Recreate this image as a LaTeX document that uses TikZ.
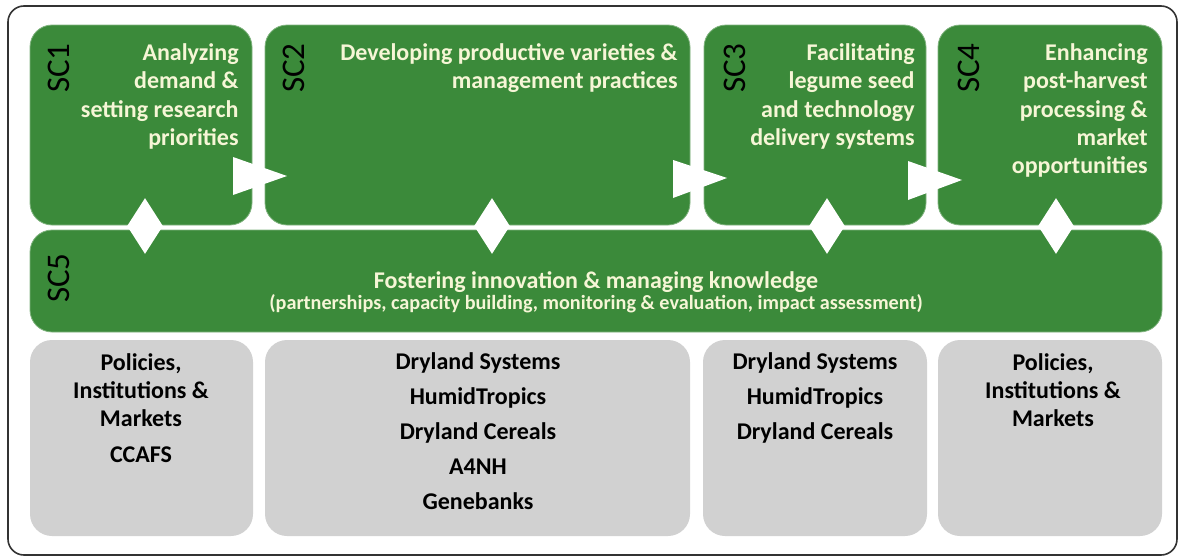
\documentclass[tikz,border=0pt]{standalone}
\usepackage{fontspec}
\setmainfont{Carlito}
\usetikzlibrary{shapes.geometric}
\definecolor{scgreen}{RGB}{59,138,58}
\definecolor{scgray}{RGB}{209,209,209}
\definecolor{sctext}{RGB}{246,246,214}

\begin{document}
\begin{tikzpicture}[x=0.5pt, y=-0.5pt,
  greenbox/.style={fill=scgreen, draw=scgreen!65!white, line width=0.4pt, rounded corners=11pt, minimum height=100pt, inner sep=0pt},
  graybox/.style={fill=scgray, rounded corners=11pt, minimum height=98pt, inner sep=0pt},
  sclabel/.style={rotate=90, anchor=east, inner sep=0pt, font=\fontsize{16.5}{18}\selectfont},
  desc/.style={anchor=north east, align=right, inner sep=0pt, text=sctext, font=\bfseries\fontsize{12}{14.2}\selectfont},
  partner/.style={anchor=north, align=center, inner sep=0pt, font=\bfseries\fontsize{12}{14}\selectfont},
  link/.style={diamond, fill=white, minimum width=18pt, minimum height=28pt, inner sep=0pt}]
\useasboundingbox (0,0) rectangle (1182,557);

% frame
\draw[gray!40!black, line width=0.8pt, rounded corners=8pt] (8,6) rectangle (1177,555);

% sub-components
\node[greenbox, minimum width=111pt] (sc1) at (141,125) {};
\node[greenbox, minimum width=212.5pt] (sc2) at (477.5,125) {};
\node[greenbox, minimum width=111pt] (sc3) at (815,125) {};
\node[greenbox, minimum width=112pt] (sc4) at (1050,125) {};
\node[greenbox, minimum width=566pt, minimum height=51pt] (sc5) at (596,281) {};

\node[sclabel] (l1) at (59,43) {SC1};
\node[sclabel] (l2) at (294,43) {SC2};
\node[sclabel] (l3) at (735,43) {SC3};
\node[sclabel] (l4) at (969,43) {SC4};
\node[sclabel] (l5) at (59,253) {SC5};

\node[desc] (t1) at (239,43) {Analyzing\\demand \&\\setting research\\priorities};
\node[desc] (t2) at (678,43) {Developing productive varieties \&\\management practices};
\node[desc] (t3) at (915,43) {Facilitating\\legume seed\\and technology\\delivery systems};
\node[desc] (t4) at (1148,43) {Enhancing\\post-harvest\\processing \&\\market\\opportunities};

\node[anchor=base, inner sep=0pt, text=sctext, font=\bfseries\fontsize{12}{14}\selectfont] (t5) at (596,288) {Fostering innovation \& managing knowledge};
\node[anchor=base, inner sep=0pt, text=sctext, font=\bfseries\fontsize{10.1}{11}\selectfont] (t5b) at (596,309) {(partnerships, capacity building, monitoring \& evaluation, impact assessment)};

% flow between steps
\fill[white] (233,157) -- (287,176) -- (233,195) -- cycle;
\fill[white] (673,160) -- (727,178) -- (673,198) -- cycle;
\fill[white] (908,161) -- (962,180) -- (908,200) -- cycle;

\node[link] (d1) at (145,226) {};
\node[link] (d2) at (492,226) {};
\node[link] (d3) at (827,226) {};
\node[link] (d4) at (1056,226) {};

% CGIAR research programs
\node[graybox, minimum width=111.5pt] (g1) at (141.5,438) {};
\node[graybox, minimum width=212.5pt] (g2) at (477.5,438) {};
\node[graybox, minimum width=112pt] (g3) at (815,438) {};
\node[graybox, minimum width=112pt] (g4) at (1050,438) {};

\node[partner] (p1) at (141,353) {Policies,\\Institutions \&\\Markets\\[4pt]CCAFS};
\node[partner, font=\bfseries\fontsize{12}{17.5}\selectfont] (p2) at (478,352) {Dryland Systems\\HumidTropics\\Dryland Cereals\\A4NH\\Genebanks};
\node[partner, font=\bfseries\fontsize{12}{17.5}\selectfont] (p3) at (815,352) {Dryland Systems\\HumidTropics\\Dryland Cereals};
\node[partner] (p4) at (1053,353) {Policies,\\Institutions \&\\Markets};

\end{tikzpicture}
\end{document}
